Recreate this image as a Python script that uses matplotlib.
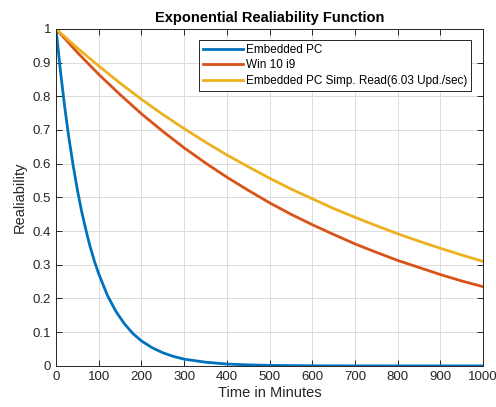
import matplotlib.pyplot as plt

plt.rcParams["font.family"] = ["Liberation Sans", "DejaVu Sans"]

# Tiempos (minutos) y confiabilidad
t_emb = [0, 10, 20, 30, 40, 50, 60, 70, 80, 90, 100, 120, 140, 160, 180, 200,
         225, 250, 275, 300, 350, 400, 450, 500, 600, 700, 800, 900, 1000]
r_emb = [1.0, 0.878, 0.771, 0.677, 0.595, 0.522, 0.458, 0.403, 0.353, 0.310,
         0.273, 0.210, 0.162, 0.125, 0.096, 0.074, 0.054, 0.039, 0.028, 0.020,
         0.011, 0.0055, 0.003, 0.0015, 0.0004, 0.0001, 0.0, 0.0, 0.0]

t = [0, 50, 100, 150, 200, 250, 300, 350, 400, 450, 500,
     550, 600, 650, 700, 750, 800, 850, 900, 950, 1000]
r_win = [1.0, 0.930, 0.865, 0.805, 0.748, 0.696, 0.647, 0.602, 0.560, 0.521,
         0.484, 0.450, 0.419, 0.390, 0.362, 0.337, 0.313, 0.292, 0.271, 0.252, 0.235]
r_simp = [1.0, 0.943, 0.890, 0.839, 0.791, 0.746, 0.704, 0.664, 0.626, 0.591,
          0.557, 0.525, 0.496, 0.467, 0.441, 0.416, 0.392, 0.370, 0.349, 0.329, 0.310]

etiquetas = ["Embedded PC", "Win 10 i9", "Embedded PC Simp. Read(6.03 Upd./sec)"]
colores = ["#0072BD", "#D95319", "#EDB120"]

fig = plt.figure(figsize=(4.96, 4.07), dpi=100)
ax = fig.add_axes([0.113, 0.101, 0.861, 0.828])

ax.plot(t_emb, r_emb, color=colores[0], lw=2, label=etiquetas[0])
ax.plot(t, r_win, color=colores[1], lw=2, label=etiquetas[1])
ax.plot(t, r_simp, color=colores[2], lw=2, label=etiquetas[2])

ax.set_xlim(0, 1000)
ax.set_ylim(0, 1)
ax.set_xticks(range(0, 1001, 100))
ax.set_yticks([i / 10 for i in range(11)])
ax.set_yticklabels(["0", "0.1", "0.2", "0.3", "0.4", "0.5", "0.6", "0.7", "0.8", "0.9", "1"])
ax.grid(True, color="#dcdcdc", lw=0.7)
ax.set_axisbelow(True)
ax.tick_params(direction="in", top=True, right=True, labelsize=9.5,
               colors="#262626", length=4, width=0.7)
for s in ax.spines.values():
    s.set_color("#262626")
    s.set_linewidth(0.7)

ax.set_xlabel("Time in Minutes", fontsize=10.5, color="#262626", labelpad=2)
ax.set_ylabel("Realiability", fontsize=10.5, color="#262626", labelpad=4)
ax.set_title("Exponential Realiability Function", fontsize=10.5, fontweight="bold", pad=5)

leg = ax.legend(loc="upper right", bbox_to_anchor=(0.972, 0.966), fontsize=8.5,
                fancybox=False, edgecolor="#262626", framealpha=1,
                handlelength=3.4, borderpad=0.3, labelspacing=0.3, handletextpad=0.3,
                borderaxespad=0)
leg.get_frame().set_linewidth(0.7)

plt.savefig("out.png", dpi=100)
